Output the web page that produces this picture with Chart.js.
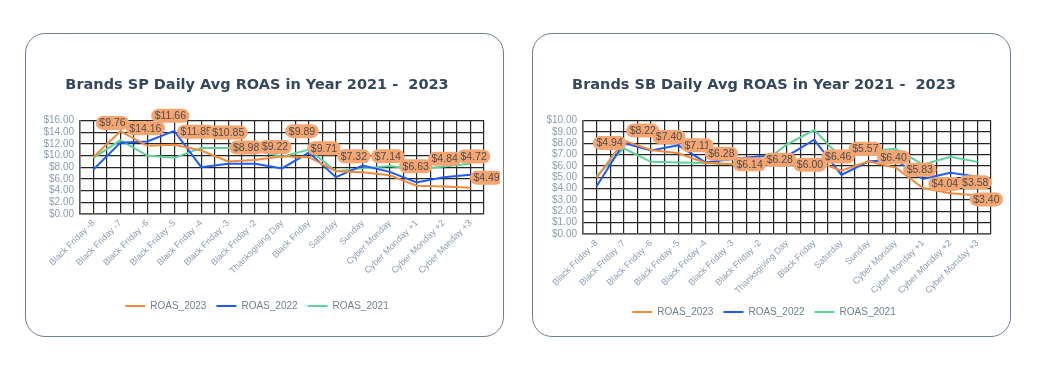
<!DOCTYPE html>
<html>
<head>
<meta charset="utf-8">
<script src="https://cdn.jsdelivr.net/npm/chart.js@4.4.1/dist/chart.umd.min.js"></script>
<style>
html,body{margin:0;padding:0;background:#fff;width:1053px;height:370px;overflow:hidden;}
.card{position:absolute;top:33px;height:304px;border:1.5px solid #6d8196;border-radius:20px;box-sizing:border-box;}
#card1{left:25px;width:479px;}
#card2{left:532px;width:479px;}
.wrap{position:absolute;}
</style>
</head>
<body>
<div class="card" id="card1"></div>
<div class="card" id="card2"></div>
<div class="wrap" style="left:30px;top:50px;width:470px;height:285px;"><canvas id="chartSP"></canvas></div>
<div class="wrap" style="left:537px;top:50px;width:470px;height:285px;"><canvas id="chartSB"></canvas></div>
<script>
// ---- data ----
const categories = ['Black Friday -8','Black Friday -7','Black Friday -6','Black Friday -5','Black Friday -4','Black Friday -3','Black Friday -2','Thanksgiving Day','Black Friday','Saturday','Sunday','Cyber Monday','Cyber Monday +1','Cyber Monday +2','Cyber Monday +3'];
const seriesNames = ['ROAS_2023','ROAS_2022','ROAS_2021'];

const sp2023 = [9.76,14.16,11.66,11.85,10.85,8.98,9.22,9.89,9.71,7.32,7.14,6.63,4.84,4.72,4.49];
const sp2022 = [7.6,12.2,12.4,14.2,8.0,8.6,8.6,7.8,10.5,6.3,8.3,7.2,5.4,6.3,6.7];
const sp2021 = [9.6,12.6,10.0,9.6,11.3,11.3,11.0,9.8,11.0,7.3,7.8,8.2,7.6,8.1,8.6];

const sb2023 = [4.94,8.22,7.40,7.11,6.28,6.14,6.28,6.00,6.46,5.57,6.40,5.83,4.04,3.58,3.40];
const sb2022 = [4.2,8.0,7.35,7.8,6.3,6.6,6.85,6.85,8.3,5.2,6.4,6.5,4.85,5.4,5.05];
const sb2021 = [5.1,7.55,6.35,6.3,6.25,6.15,6.05,7.9,9.15,6.7,7.3,7.5,6.1,6.8,6.35];

const spTicks = {max:16, step:2};
const sbTicks = {max:10, step:1};

// label nudges (px, relative to each point)
const spLabelNudge = [[19,-34],[25,-3],[23,-30],[22,-13],[27,-18],[18,-14],[20,-13],[20,-25],[15,-9],[18,-15],[25,-16],[26,-9],[28,-27],[30,-30],[16,-10]];
const sbLabelNudge = [[13,-35],[19,-10],[18,-13],[19,-8],[16,-9],[17,0],[20,-3],[23,-1],[24,-4],[24,-22],[25,-4],[24,2],[22,-4],[25,-11],[9,4]];

// ---- styling ----
const COLORS = ['#F28A3D','#1F5BF5','#5DD39A'];
const TICK_COLOR = '#8b9cb2';
const GRID = '#262626';
const FONT = '"Liberation Sans", Arial, sans-serif';

const pillPlugin = {
  id:'pills',
  afterDatasetsDraw(chart, args, opts){
    const meta = chart.getDatasetMeta(0);
    const vals = chart.data.datasets[0].data;
    const ctx = chart.ctx;
    ctx.save();
    ctx.font = '10.5px ' + FONT;
    ctx.textAlign = 'center';
    ctx.textBaseline = 'middle';
    meta.data.forEach((pt,i)=>{
      const txt = '$' + vals[i].toFixed(2);
      const n = opts.nudge[i] || [0,0];
      const x = pt.x + n[0], y = pt.y + n[1];
      const w = ctx.measureText(txt).width + 7, h = 14;
      ctx.fillStyle = '#F5A571';
      ctx.beginPath();
      ctx.roundRect(x - w/2, y - h/2, w, h, 7);
      ctx.fill();
      ctx.fillStyle = '#4d4d4d';
      ctx.fillText(txt, x, y + 0.5);
    });
    ctx.restore();
  }
};

function makeChart(id, title, d23, d22, d21, ticks, nudge, yWidth, xHeight, titlePad, bottomPad){
  return new Chart(document.getElementById(id), {
    type:'line',
    data:{
      labels:categories,
      datasets:[
        {label:seriesNames[0], data:d23, borderColor:COLORS[0], backgroundColor:COLORS[0]},
        {label:seriesNames[1], data:d22, borderColor:COLORS[1], backgroundColor:COLORS[1]},
        {label:seriesNames[2], data:d21, borderColor:COLORS[2], backgroundColor:COLORS[2]}
      ].map(ds=>Object.assign(ds,{borderWidth:2, pointRadius:0, tension:0, fill:false}))
    },
    options:{
      responsive:true,
      maintainAspectRatio:false,
      animation:false,
      layout:{padding:{left:0,right:16,top:0,bottom:bottomPad}},
      plugins:{
        title:{display:true, text:title, color:'#33485e',
          font:{family:'"DejaVu Sans", sans-serif', size:14.5, weight:'bold'},
          padding:{top:titlePad[0], bottom:titlePad[1]}},
        legend:{position:'bottom',
          labels:{usePointStyle:true, pointStyle:'line', pointStyleWidth:20, boxHeight:10,
            color:'#6f7f92', font:{family:FONT, size:10}, padding:10}},
        tooltip:{enabled:false},
        pills:{nudge:nudge}
      },
      scales:{
        y:{min:0, max:ticks.max,
          ticks:{stepSize:ticks.step, autoSkip:false, color:TICK_COLOR, font:{family:FONT,size:10}, padding:6,
            callback:v=>'$' + Number(v).toFixed(2)},
          grid:{color:GRID, lineWidth:1.2, drawTicks:false},
          border:{color:'#555', width:1.5},
          afterFit:s=>{s.width = yWidth;}
        },
        x:{type:'category', offset:true,
          ticks:{color:TICK_COLOR, font:{family:FONT,size:9}, minRotation:45, maxRotation:45, padding:4, autoSkip:false},
          grid:{color:GRID, lineWidth:1.2, offset:false, drawTicks:false},
          border:{color:'#555', width:1.5},
          afterFit:s=>{s.height = xHeight;}
        },
        x2:{type:'category', position:'bottom', offset:true, labels:categories,
          ticks:{display:false},
          grid:{color:GRID, lineWidth:1.2, offset:true, drawTicks:false},
          border:{display:false},
          afterFit:s=>{s.height = 0;}
        }
      }
    },
    plugins:[pillPlugin]
  });
}

makeChart('chartSP','Brands SP Daily Avg ROAS in Year 2021 -  2023', sp2023, sp2022, sp2021, spTicks, spLabelNudge, 50, 77, [27,26], 14);
makeChart('chartSB','Brands SB Daily Avg ROAS in Year 2021 -  2023', sb2023, sb2022, sb2021, sbTicks, sbLabelNudge, 46, 63, [27,26], 8);
</script>
</body>
</html>
